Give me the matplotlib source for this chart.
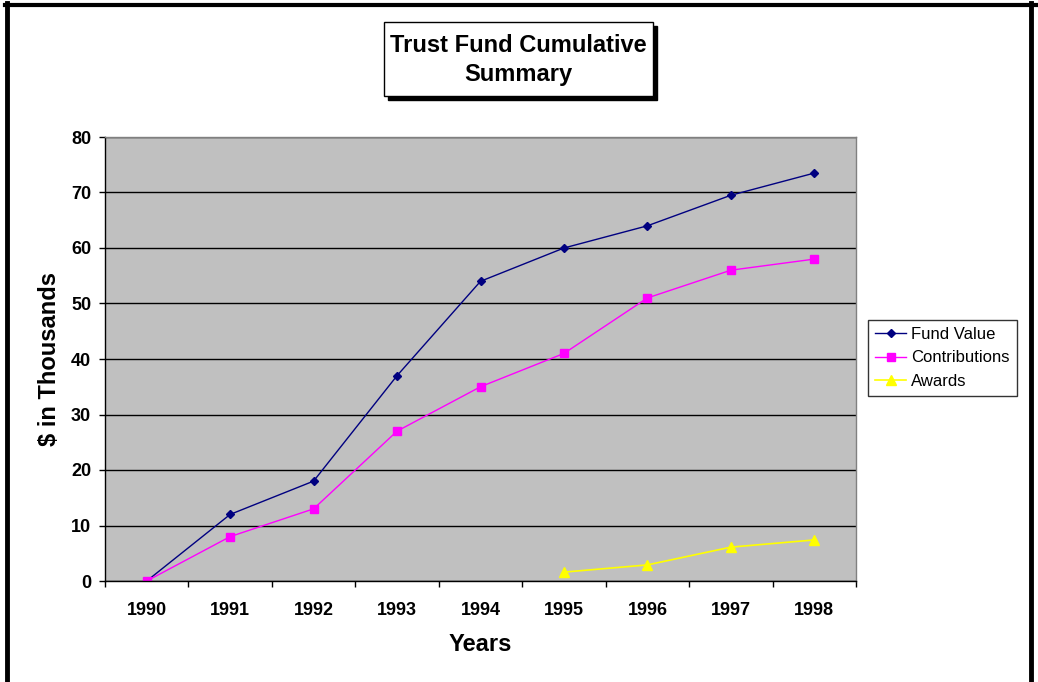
import matplotlib
matplotlib.use("Agg")
import matplotlib.pyplot as plt
from matplotlib.lines import Line2D
from matplotlib.patches import Rectangle

plt.rcParams['font.family'] = ['Liberation Sans', 'DejaVu Sans']

years = ['1990', '1991', '1992', '1993', '1994', '1995', '1996', '1997', '1998']
fund_value = [0, 12, 18, 37, 54, 60, 64, 69.5, 73.5]
contributions = [0, 8, 13, 27, 35, 41, 51, 56, 58]
award_years = ['1995', '1996', '1997', '1998']
awards = [1.6, 2.9, 6.1, 7.4]
y_ticks = [0, 10, 20, 30, 40, 50, 60, 70, 80]

W, H = 1038, 682
fig = plt.figure(figsize=(W / 100, H / 100), dpi=100)
fig.patch.set_facecolor('white')

ax = fig.add_axes([105 / W, 1 - 581 / H, (856 - 105) / W, (581 - 137) / H])
ax.set_facecolor('#C0C0C0')

x = list(range(len(years)))
xa = [years.index(y) for y in award_years]

ax.plot(x, fund_value, color='#000080', marker='D', markersize=4.5, linewidth=1, label='Fund Value')
ax.plot(x, contributions, color='#FF00FF', marker='s', markersize=5.5, linewidth=1, label='Contributions')
ax.plot(xa, awards, color='#FFFF00', marker='^', markersize=7, linewidth=1.2, label='Awards')

ax.set_xlim(-0.5, len(years) - 0.5)
ax.set_ylim(0, 80)
ax.set_yticks(y_ticks)
ax.set_yticklabels([str(v) for v in y_ticks], fontsize=13, fontweight='bold')
ax.set_xticks(x)
ax.set_xticklabels(years, fontsize=13, fontweight='bold')
ax.tick_params(axis='x', length=0, pad=15)
ax.set_xticks([i + 0.5 for i in range(-1, len(years))], minor=True)
ax.tick_params(axis='x', which='minor', length=4.5, width=1, direction='out', color='black')
ax.tick_params(axis='y', length=4, width=1, direction='out', pad=6)
ax.grid(axis='y', color='black', linewidth=1)
ax.set_axisbelow(True)

for s in ['top', 'right']:
    ax.spines[s].set_color('#808080')
    ax.spines[s].set_linewidth(1)
for s in ['left', 'bottom']:
    ax.spines[s].set_color('black')
    ax.spines[s].set_linewidth(1)

ax.set_xlabel('Years', fontsize=17, fontweight='bold', labelpad=10)
ax.set_ylabel('$ in Thousands', fontsize=17, fontweight='bold', labelpad=7)

leg = ax.legend(loc='center left', bbox_to_anchor=(868 / W, 1 - 398 / H, (1019 - 868) / W, (398 - 318) / H),
                bbox_transform=fig.transFigure, fontsize=12, frameon=True,
                fancybox=False, edgecolor='black', borderaxespad=0, handlelength=1.9,
                labelspacing=0.5, borderpad=0.4, handletextpad=0.3)
leg.get_frame().set_linewidth(1)

# Title box with shadow
fig.patches.append(Rectangle((388 / W, 1 - 100 / H), (657 - 388) / W, (100 - 26) / H,
                             transform=fig.transFigure, facecolor='black', edgecolor='black', zorder=1))
fig.patches.append(Rectangle((384 / W, 1 - 96 / H), (653 - 384) / W, (96 - 22) / H,
                             transform=fig.transFigure, facecolor='white', edgecolor='black', linewidth=1, zorder=2))
fig.text((384 + 653) / 2 / W, 1 - 60 / H, 'Trust Fund Cumulative\nSummary', ha='center', va='center',
         fontsize=17, fontweight='bold', linespacing=1.35, zorder=3)

# outer border (partial frame)
fig.lines.append(Line2D([5 / W, 1], [1 - 4.5 / H, 1 - 4.5 / H], transform=fig.transFigure, color='black', linewidth=3))
fig.lines.append(Line2D([7 / W, 7 / W], [0, 1 - 3 / H], transform=fig.transFigure, color='black', linewidth=3.5))
fig.lines.append(Line2D([1031 / W, 1031 / W], [0, 1 - 3 / H], transform=fig.transFigure, color='black', linewidth=3.5))

fig.savefig('out.png', dpi=100)
